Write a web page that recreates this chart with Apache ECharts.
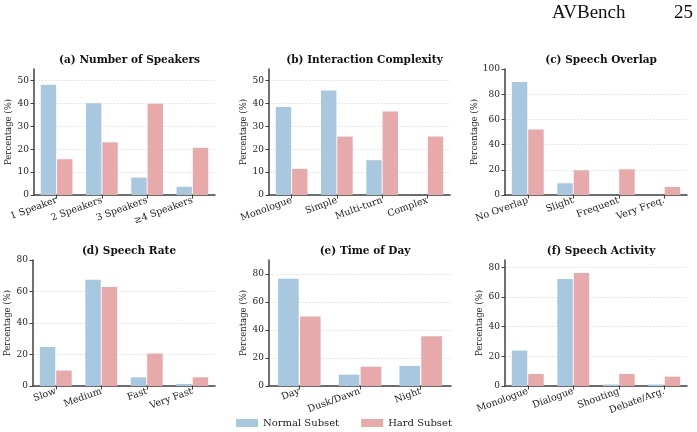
<!DOCTYPE html>
<html>
<head>
<meta charset="utf-8">
<script src="https://cdn.jsdelivr.net/npm/echarts@6/dist/echarts.min.js"></script>
<style>
  html, body { margin: 0; padding: 0; background: #fff; }
  #main { width: 697px; height: 432px; }
</style>
</head>
<body>
<div id="main"></div>
<script>
// values (percentages)
var speakerCats = ['1 Speaker', '2 Speakers', '3 Speakers', '\u22654 Speakers'];
var speakerNormal = [48.1, 40.1, 7.6, 3.6];
var speakerHard = [15.6, 23.0, 39.8, 20.6];

var complexityCats = ['Monologue', 'Simple', 'Multi-turn', 'Complex'];
var complexityNormal = [38.4, 45.6, 15.2, 0];
var complexityHard = [11.4, 25.5, 36.4, 25.5];

var overlapCats = ['No Overlap', 'Slight', 'Frequent', 'Very Freq.'];
var overlapNormal = [89.7, 9.3, 0, 0];
var overlapHard = [52.0, 19.6, 20.4, 6.4];

var rateCats = ['Slow', 'Medium', 'Fast', 'Very Fast'];
var rateNormal = [24.8, 67.5, 5.5, 1.3];
var rateHard = [9.8, 62.8, 20.6, 5.5];

var timeCats = ['Day', 'Dusk/Dawn', 'Night'];
var timeNormal = [76.6, 8.1, 14.3];
var timeHard = [49.7, 13.8, 35.6];

var activityCats = ['Monologue', 'Dialogue', 'Shouting', 'Debate/Arg.'];
var activityNormal = [23.9, 72.1, 1.0, 1.0];
var activityHard = [8.1, 76.2, 8.1, 6.3];

var panelTitles = ['(a) Number of Speakers', '(b) Interaction Complexity', '(c) Speech Overlap',
                   '(d) Speech Rate', '(e) Time of Day', '(f) Speech Activity'];
var yMax = [55, 55, 100, 80, 90, 85];
var yStep = [10, 10, 20, 20, 20, 20];

var panels = [
    {cats: speakerCats, normal: speakerNormal, hard: speakerHard},
    {cats: complexityCats, normal: complexityNormal, hard: complexityHard},
    {cats: overlapCats, normal: overlapNormal, hard: overlapHard},
    {cats: rateCats, normal: rateNormal, hard: rateHard},
    {cats: timeCats, normal: timeNormal, hard: timeHard},
    {cats: activityCats, normal: activityNormal, hard: activityHard}
];

var BLUE = '#a8c8df';
var PINK = '#e8a9aa';
var FONT = 'DejaVu Serif';
var AXIS = '#404040';

// grid boxes (left, top, width, height)
var boxes = [
    [34, 69, 181, 126], [269, 69, 181, 126], [505, 69, 182, 126],
    [33, 260, 182, 126], [269, 260, 182, 126], [505, 260, 182, 126]
];

var grids = [], xAxes = [], yAxes = [], series = [], titles = [];

titles.push({
    text: 'AVBench', left: 547, top: -1,
    textStyle: {fontFamily: 'Liberation Serif', fontWeight: 'normal', fontSize: 19, color: '#111'}
});
titles.push({
    text: '25', left: 669, top: -1,
    textStyle: {fontFamily: 'Liberation Serif', fontWeight: 'normal', fontSize: 19, color: '#111'}
});

for (var i = 0; i < panels.length; i++) {
    var b = boxes[i];
    grids.push({left: b[0], top: b[1], width: b[2], height: b[3], containLabel: false});
    titles.push({
        text: panelTitles[i],
        left: b[0] + b[2] / 2,
        top: b[1] - 19,
        textAlign: 'center',
        textStyle: {fontFamily: FONT, fontWeight: 'bold', fontSize: 10.5, color: '#111'}
    });
    // no grid line at the top edge
    var nLines = Math.ceil(yMax[i] / yStep[i]) + 1;
    var lineColors = [];
    for (var k = 0; k < nLines; k++) lineColors.push('#d9d9d9');
    lineColors[nLines - 1] = 'rgba(0,0,0,0)';
    xAxes.push({
        type: 'category', gridIndex: i, data: panels[i].cats,
        axisLine: {lineStyle: {color: AXIS, width: 1.5}},
        axisTick: {show: true, alignWithLabel: true, length: 3.5, lineStyle: {color: AXIS}},
        axisLabel: {rotate: 20, fontFamily: FONT, fontSize: 9.5, color: '#222', margin: 5}
    });
    yAxes.push({
        type: 'value', gridIndex: i, min: 0, max: yMax[i], interval: yStep[i],
        name: 'Percentage (%)', nameLocation: 'middle', nameGap: 18,
        nameTextStyle: {fontFamily: FONT, fontSize: 8.5, color: '#222'},
        axisLine: {show: true, lineStyle: {color: AXIS, width: 1.5}},
        axisTick: {show: true, length: 3.5, lineStyle: {color: AXIS}},
        axisLabel: {fontFamily: FONT, fontSize: 9, color: '#222', margin: 5, showMaxLabel: yMax[i] % yStep[i] === 0},
        splitLine: {show: true, lineStyle: {color: lineColors, type: 'dashed', width: 0.6}}
    });
    series.push({
        name: 'Normal Subset', type: 'bar', xAxisIndex: i, yAxisIndex: i,
        data: panels[i].normal, barWidth: '34%', barGap: '6%',
        itemStyle: {color: BLUE}
    });
    series.push({
        name: 'Hard Subset', type: 'bar', xAxisIndex: i, yAxisIndex: i,
        data: panels[i].hard, barWidth: '34%', barGap: '6%',
        itemStyle: {color: PINK}
    });
}

var chart = echarts.init(document.getElementById('main'));
chart.setOption({
    animation: false,
    title: titles,
    legend: {
        data: ['Normal Subset', 'Hard Subset'],
        left: 236, top: 418, padding: 0,
        itemWidth: 22, itemHeight: 8, itemGap: 22,
        icon: 'rect',
        textStyle: {fontFamily: FONT, fontSize: 10, color: '#222'}
    },
    grid: grids,
    xAxis: xAxes,
    yAxis: yAxes,
    series: series
});
</script>
</body>
</html>
